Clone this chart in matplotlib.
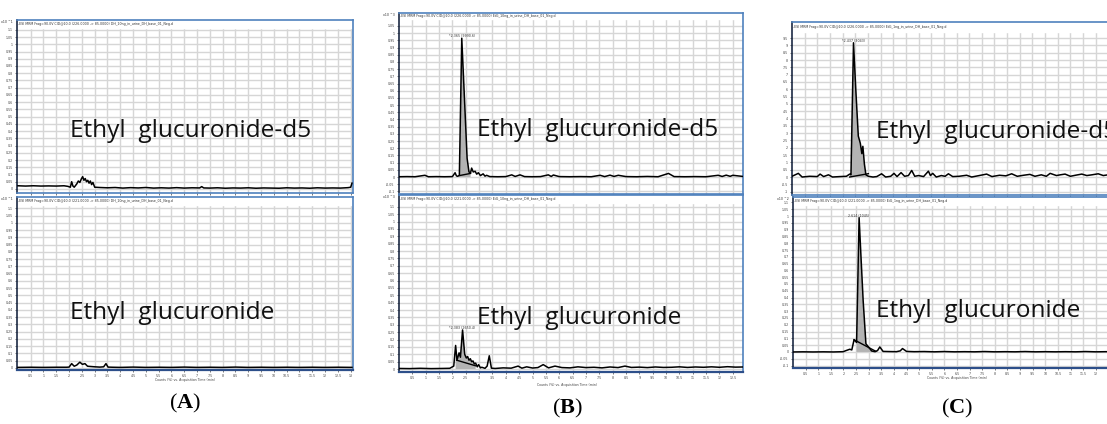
import numpy as np
import matplotlib.pyplot as plt
from matplotlib.patches import Rectangle

plt.rcParams['mathtext.fontset'] = 'custom'
plt.rcParams['mathtext.rm'] = 'Liberation Serif'
plt.rcParams['mathtext.bf'] = 'Liberation Serif:bold'

# ---- data (retention time in min, counts in axis units) ----
a_top_t = [0.0, 0.3, 0.6, 0.9, 1.2, 1.5, 1.8, 1.95, 2.05, 2.1, 2.15, 2.2, 2.3, 2.36, 2.42, 2.48, 2.53, 2.58, 2.63,
           2.68, 2.73, 2.78, 2.83, 2.88, 2.93, 3.0, 3.2, 3.5, 3.8, 4.1, 4.4, 4.7, 5.0, 5.3, 5.6, 5.9, 6.2, 6.5, 6.8,
           7.1, 7.18, 7.26, 7.5, 7.8, 8.1, 8.4, 8.7, 9.0, 9.3, 9.6, 9.9, 10.2, 10.5, 10.8, 11.1, 11.4, 11.7, 12.0,
           12.3, 12.6, 12.9, 13.0, 13.05]
a_top_y = [0.022, 0.02, 0.022, 0.02, 0.021, 0.02, 0.022, 0.018, 0.012, 0.05, 0.02, 0.012, 0.035, 0.055, 0.045,
           0.07, 0.085, 0.06, 0.072, 0.05, 0.06, 0.04, 0.055, 0.03, 0.045, 0.012, 0.01, 0.008, 0.01, 0.006, 0.009,
           0.007, 0.01, 0.006, 0.008, 0.006, 0.009, 0.006, 0.008, 0.007, 0.016, 0.007, 0.006, 0.008, 0.005, 0.007,
           0.006, 0.008, 0.005, 0.007, 0.006, 0.005, 0.008, 0.006, 0.007, 0.005, 0.008, 0.006, 0.007, 0.006, 0.009,
           0.012, 0.04]

a_bot_t = [0.0, 0.5, 1.0, 1.5, 1.9, 2.0, 2.1, 2.2, 2.3, 2.42, 2.52, 2.62, 2.72, 2.85, 3.0, 3.2, 3.35, 3.44, 3.52,
           3.7, 4.0, 4.5, 5.0, 5.5, 6.0, 6.5, 7.0, 7.5, 8.0, 8.5, 9.0, 9.5, 10.0, 10.5, 11.0, 11.5, 12.0, 12.5, 13.05]
a_bot_y = [0.004, 0.005, 0.004, 0.005, 0.005, 0.006, 0.03, 0.012, 0.02, 0.04, 0.025, 0.03, 0.012, 0.01, 0.008,
           0.006, 0.008, 0.03, 0.006, 0.005, 0.004, 0.006, 0.004, 0.005, 0.004, 0.006, 0.004, 0.005, 0.004, 0.006,
           0.004, 0.005, 0.004, 0.005, 0.004, 0.005, 0.004, 0.005, 0.004]

b_top_t = [0.0, 0.3, 0.6, 0.97, 1.1, 1.4, 1.7, 2.0, 2.1, 2.15, 2.2, 2.26, 2.35, 2.45, 2.55, 2.62, 2.68, 2.72, 2.78,
           2.85, 2.91, 2.97, 3.05, 3.15, 3.22, 3.28, 3.4, 3.7, 4.0, 4.22, 4.35, 4.53, 4.7, 5.0, 5.3, 5.59, 5.7, 5.78,
           6.0, 6.4, 6.8, 7.2, 7.53, 7.7, 7.9, 8.05, 8.21, 8.5, 8.9, 9.3, 9.7, 10.09, 10.3, 10.7, 11.1, 11.5, 11.95,
           12.1, 12.25, 12.4, 12.5, 12.88]
b_top_y = [0.002, 0.003, 0.002, 0.012, 0.002, 0.003, 0.002, 0.003, 0.03, 0.008, 0.005, 0.012, 0.965, 0.55, 0.13,
           0.035, 0.03, 0.062, 0.035, 0.04, 0.02, 0.03, 0.01, 0.022, 0.006, 0.012, 0.003, 0.002, 0.003, 0.015, 0.004,
           0.015, 0.003, 0.002, 0.003, 0.015, 0.004, 0.014, 0.003, 0.002, 0.003, 0.002, 0.012, 0.003, 0.013, 0.004,
           0.012, 0.003, 0.002, 0.004, 0.002, 0.025, 0.003, 0.002, 0.003, 0.002, 0.012, 0.004, 0.013, 0.005, 0.012,
           0.004]

b_bot_t = [0.0, 0.4, 0.8, 1.2, 1.6, 1.9, 2.05, 2.12, 2.17, 2.25, 2.3, 2.38, 2.46, 2.52, 2.57, 2.62, 2.67, 2.72, 2.77,
           2.82, 2.87, 2.93, 2.98, 3.05, 3.1, 3.22, 3.3, 3.38, 3.46, 3.6, 3.9, 4.2, 4.46, 4.6, 4.78, 5.0, 5.2, 5.4,
           5.6, 5.84, 6.1, 6.4, 6.7, 7.0, 7.3, 7.6, 7.9, 8.2, 8.46, 8.7, 9.0, 9.3, 9.6, 9.9, 10.2, 10.5, 10.8, 11.1,
           11.4, 11.7, 12.0, 12.3, 12.6, 12.88]
b_bot_y = [0.004, 0.003, 0.005, 0.003, 0.004, 0.005, 0.02, 0.16, 0.06, 0.11, 0.08, 0.265, 0.1, 0.075, 0.085, 0.06,
           0.07, 0.05, 0.055, 0.035, 0.04, 0.015, 0.03, 0.008, 0.012, 0.005, 0.02, 0.09, 0.006, 0.004, 0.008, 0.006,
           0.02, 0.006, 0.015, 0.007, 0.01, 0.03, 0.008, 0.02, 0.01, 0.008, 0.015, 0.01, 0.012, 0.008, 0.014, 0.01,
           0.02, 0.011, 0.013, 0.01, 0.014, 0.011, 0.012, 0.015, 0.011, 0.014, 0.012, 0.015, 0.012, 0.016, 0.013,
           0.014]

c_top_t = [0.0, 0.25, 0.4, 0.7, 1.0, 1.11, 1.25, 1.44, 1.6, 1.9, 2.15, 2.28, 2.33, 2.43, 2.52, 2.62, 2.7, 2.76, 2.8,
           2.86, 2.92, 3.02, 3.2, 3.35, 3.54, 3.7, 3.9, 4.03, 4.15, 4.31, 4.45, 4.6, 4.73, 4.85, 5.0, 5.2, 5.39, 5.47,
           5.56, 5.7, 5.9, 6.05, 6.18, 6.35, 6.6, 6.9, 7.1, 7.4, 7.69, 7.9, 8.2, 8.45, 8.68, 8.9, 9.15, 9.4, 9.6,
           9.85, 10.05, 10.2, 10.45, 10.6, 10.79, 11.0, 11.2, 11.45, 11.65, 11.85, 12.1, 12.3, 12.6, 13.0]
c_top_y = [0.05, 0.25, 0.0, 0.05, 0.03, 0.2, 0.03, 0.15, 0.0, 0.03, 0.05, 0.2, 0.15, 9.18, 6.0, 2.8, 2.3, 1.6, 2.1,
           0.9, 0.15, 0.05, 0.0, 0.03, 0.22, 0.0, 0.05, 0.25, 0.03, 0.3, 0.05, 0.1, 0.45, 0.05, 0.1, 0.03, 0.4, 0.1,
           0.25, 0.0, 0.1, 0.05, 0.22, 0.03, 0.05, 0.12, 0.0, 0.1, 0.2, 0.03, 0.12, 0.08, 0.22, 0.05, 0.12, 0.18,
           0.05, 0.15, 0.05, 0.25, 0.1, 0.15, 0.2, 0.05, 0.12, 0.2, 0.1, 0.15, 0.22, 0.1, 0.18, 0.12]

c_bot_t = [0.0, 0.4, 0.8, 1.2, 1.6, 1.99, 2.1, 2.25, 2.33, 2.42, 2.52, 2.62, 2.7, 2.78, 2.89, 2.99, 3.12, 3.25, 3.35,
           3.44, 3.57, 3.8, 4.1, 4.25, 4.34, 4.5, 4.8, 5.2, 5.6, 6.0, 6.4, 6.8, 7.2, 7.6, 8.0, 8.4, 8.8, 9.2, 9.6,
           10.0, 10.4, 10.8, 11.2, 11.6, 12.0, 12.4, 12.8, 13.0]
c_bot_y = [0.0, 0.001, 0.0, 0.001, 0.0, 0.002, 0.01, 0.02, 0.015, 0.09, 0.07, 0.988, 0.68, 0.38, 0.06, 0.037, 0.007,
           0.002, 0.01, 0.037, 0.004, 0.003, 0.002, 0.008, 0.025, 0.004, 0.002, 0.003, 0.001, 0.003, 0.001, 0.002,
           0.001, 0.003, 0.001, 0.002, 0.001, 0.003, 0.001, 0.002, 0.001, 0.002, 0.001, 0.003, 0.001, 0.002, 0.001,
           0.002]

# integrated peaks: (fill start, fill end), integration line (t pair, y pair)
b_top_fill = (2.26, 2.68)
b_top_base = ([2.26, 2.68], [0.01, 0.025])
b_bot_fill = (2.12, 2.87)
b_bot_base = ([2.16, 2.87], [0.06, 0.022])
c_top_fill = (2.28, 3.02)
c_top_base = ([2.28, 3.02], [0.0, 0.23])
c_bot_fill = (2.52, 3.12)
c_bot_base = ([2.42, 3.28], [0.09, 0.005])

compound_top = 'Ethyl  glucuronide-d5'
compound_bot = 'Ethyl  glucuronide'
xlabel_txt = 'Counts (%) vs. Acquisition Time (min)'
captions = ['A', 'B', 'C']

W, H = 1107, 424
fig = plt.figure(figsize=(W / 100, H / 100), dpi=100)
BLUE = '#4f81bd'


def px_axes(l, t, r, b):
    return fig.add_axes([l / W, 1 - b / H, (r - l) / W, (b - t) / H])


def chrom(box, t, y, xlim, ylim, ystep, ymax_tick, header, mult, band=8,
          fill=None, base=None, apex=None, xlabels=False, xlab_max=99):
    ax = px_axes(*box)
    t = np.array(t)
    y = np.array(y)
    ax.plot(t, y, color='black', lw=1.1, zorder=3)
    if fill is not None:
        m = (t >= fill[0]) & (t <= fill[1])
        xs = np.concatenate([[fill[0]], t[m], [fill[1]]])
        ys = np.concatenate([[0], y[m], [0]])
        ax.fill(xs, ys, color='#b3b3b3', zorder=2, lw=0)
    if base is not None:
        ax.plot(base[0], base[1], color='black', lw=1.0, zorder=3)
    if apex is not None:
        i = int(np.argmax(y))
        ax.text(t[i], y[i], apex, fontsize=2.3, ha='center', va='bottom', color='#333333', zorder=4)
    ax.set_xlim(*xlim)
    ax.set_ylim(*ylim)
    ax.set_xticks(np.arange(0.5, xlim[1], 0.5))
    yt = np.arange(round(ylim[0] / ystep) * ystep, ymax_tick + ystep / 2, ystep)
    yt = yt[yt >= ylim[0]]
    ax.set_yticks(yt)
    ax.set_yticklabels(['%g' % round(v, 3) for v in yt])
    if xlabels:
        ax.set_xticklabels(['%g' % v if v <= xlab_max else '' for v in ax.get_xticks()])
    else:
        ax.set_xticklabels([])
    ax.tick_params(labelsize=2.3, length=1.5, width=0.5, pad=1.5, colors='#444444')
    ax.set_axisbelow(True)
    ax.grid(True, color='#d6d6d6', lw=1.0)
    frac = band / (box[3] - box[1])
    ax.add_patch(Rectangle((0, 1 - frac), 1, frac, transform=ax.transAxes, color='white', zorder=1))
    ax.text(0.004, 1 - frac / 2, header, transform=ax.transAxes, fontsize=2.3, va='center', ha='left',
            color='#333333', zorder=4)
    ax.text(-0.012, 1.0, mult, transform=ax.transAxes, fontsize=2.3, va='top', ha='right', color='#333333')
    for s in ['top', 'right', 'bottom']:
        ax.spines[s].set_color(BLUE)
        ax.spines[s].set_linewidth(1.2)
    ax.spines['left'].set_color('#1c2a44')
    ax.spines['left'].set_linewidth(1.2)
    if xlabels:
        ax.spines['bottom'].set_color('#2d4f8a')
        ax.spines['bottom'].set_linewidth(1.6)
    return ax


hdr = '-ESI MRM Frag=90.0V CID@10.0 ({} -> 85.0000) {}_in_urine_DH_base_01_Neg.d'

# panel A
chrom((17, 20, 353, 193), a_top_t, a_top_y, (-0.035, 13.09), (-0.028, 1.168), 0.05, 1.1,
      hdr.format('226.0000', 'DH_10ng'), 'x10 ^1')
chrom((17, 197, 353, 370), a_bot_t, a_bot_y, (-0.035, 13.09), (-0.014, 1.179), 0.05, 1.1,
      hdr.format('221.0000', 'DH_10ng'), 'x10 ^1', xlabels=True)
# panel B
chrom((399, 13, 743, 194), b_top_t, b_top_y, (0, 12.88), (-0.118, 1.14), 0.05, 1.05,
      hdr.format('226.0000', 'EtG_10ng'), 'x10 ^3', band=6,
      fill=b_top_fill, base=b_top_base, apex='*2.365 (9990.6)')
chrom((399, 195, 743, 372), b_bot_t, b_bot_y, (0, 12.88), (-0.02, 1.18), 0.05, 1.1,
      hdr.format('221.0000', 'EtG_10ng'), 'x10 ^3', fill=b_bot_fill, base=b_bot_base,
      apex='*2.383 (2650.4)', xlabels=True)
# panel C
chrom((792, 22, 1121, 195), c_top_t, c_top_y, (0, 13.0), (-1.23, 10.6), 0.5, 9.5,
      hdr.format('226.0000', 'EtG_1ng'), '', band=10,
      fill=c_top_fill, base=c_top_base, apex='*2.437 (3043)')
chrom((793, 197, 1121, 368), c_bot_t, c_bot_y, (0, 13.0), (-0.118, 1.14), 0.05, 1.1,
      hdr.format('221.0000', 'EtG_1ng'), 'x10 ^2', fill=c_bot_fill, base=c_bot_base,
      apex='2.614 (1045)', xlabels=True, xlab_max=12.0)

# compound names, x labels and captions (figure pixel positions)
names = [(70, 131, compound_top), (70, 313, compound_bot), (477, 130, compound_top),
         (477, 318, compound_bot), (876, 132, compound_top), (876, 311, compound_bot)]
for x, yy, s in names:
    fig.text(x / W, 1 - yy / H, s, fontsize=17.6, family='Open Sans', ha='left', va='center', color='#111111')

for x, yy in [(185, 380), (567, 385), (957, 378)]:
    fig.text(x / W, 1 - yy / H, xlabel_txt, fontsize=2.3, ha='center', va='center', color='#444444')

for (x, yy), letter in zip([(185, 403), (567, 408), (957, 408)], captions):
    fig.text(x / W, 1 - yy / H, r'$\mathrm{(}\mathbf{%s}\mathrm{)}$' % letter, fontsize=16,
             ha='center', va='center', color='black')

fig.savefig('out.png', dpi=100)
